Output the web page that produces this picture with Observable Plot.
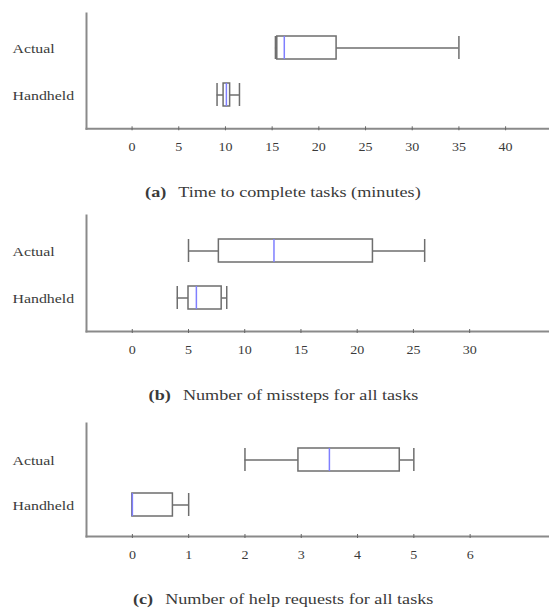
<!DOCTYPE html>
<html><head><meta charset="utf-8">
<script src="https://cdn.jsdelivr.net/npm/d3@7"></script>
<script src="https://cdn.jsdelivr.net/npm/@observablehq/plot@0.6"></script>
<style>
html,body{margin:0;padding:0;background:#fff;overflow:hidden;}
#root{position:relative;width:549px;height:612px;}
.panel{position:absolute;left:0;z-index:1;}
.cap{position:absolute;left:0;width:566px;text-align:center;font-family:"Liberation Serif","Times New Roman",serif;font-size:15px;color:#3a3a3a;line-height:18px;z-index:2;white-space:nowrap;}
.cap .inner{display:inline-block;transform:scaleX(1.21);transform-origin:center;}
.cap b{margin-right:10px;}
</style></head><body><div id="root"></div>
<script>
const groups = ["Actual", "Handheld"];

// (a) Time to complete tasks (minutes)
const timeMin = [15.35, 9.1];
const timeQ1 = [15.55, 9.8];
const timeMedian = [16.3, 10.1];
const timeQ3 = [21.9, 10.5];
const timeMax = [35, 11.5];
const timeTicks = [0, 5, 10, 15, 20, 25, 30, 35, 40];

// (b) Number of missteps for all tasks
const missMin = [5, 4];
const missQ1 = [7.7, 5];
const missMedian = [12.6, 5.7];
const missQ3 = [21.4, 7.95];
const missMax = [26, 8.4];
const missTicks = [0, 5, 10, 15, 20, 25, 30];

// (c) Number of help requests for all tasks
const helpMin = [2, 0];
const helpQ1 = [2.95, 0];
const helpMedian = [3.5, 0];
const helpQ3 = [4.75, 0.72];
const helpMax = [5, 1];
const helpTicks = [0, 1, 2, 3, 4, 5, 6];

const captionLetters = ["(a)", "(b)", "(c)"];
const captionTexts = [
  "Time to complete tasks (minutes)",
  "Number of missteps for all tasks",
  "Number of help requests for all tasks"
];

const panels = [
  {min: timeMin, q1: timeQ1, med: timeMedian, q3: timeQ3, max: timeMax, ticks: timeTicks,
   domain: [-4.88, 44.7], top: 0, height: 200, mt: 13, axisY: 128.3, yRange: [36, 107], pi: 0.505, capY: 191.7},
  {min: missMin, q1: missQ1, med: missMedian, q3: missQ3, max: missMax, ticks: missTicks,
   domain: [-4.07, 37.1], top: 200, height: 200, mt: 15, axisY: 131, yRange: [39, 109], pi: 0.511, capY: 395.3},
  {min: helpMin, q1: helpQ1, med: helpMedian, q3: helpQ3, max: helpMax, ticks: helpTicks,
   domain: [-0.815, 7.41], top: 400, height: 212, mt: 23, axisY: 136, yRange: [47, 116.5], pi: 0.489, capY: 599.3}
];

const boxStroke = "#6e6e6e";
const axisStroke = "#8a8a8a";
const medianStroke = "#7f7fff";

const root = document.getElementById("root");

panels.forEach((p, k) => {
  const data = groups.map((g, i) => ({group: g, min: p.min[i], q1: p.q1[i], med: p.med[i], q3: p.q3[i], max: p.max[i]}));
  const svg = Plot.plot({
    width: 549,
    height: p.height,
    marginLeft: 86,
    marginRight: 0,
    marginTop: p.mt,
    marginBottom: p.height - p.axisY,
    style: {fontFamily: '"Liberation Serif", "Times New Roman", serif', fontSize: "12px", color: "#3a3a3a", background: "transparent"},
    x: {domain: p.domain, label: null},
    y: {type: "band", domain: groups, range: p.yRange, paddingInner: p.pi, paddingOuter: 0, align: 0.5, label: null},
    marks: [
      Plot.frame({anchor: "left", stroke: axisStroke, strokeWidth: 2}),
      Plot.frame({anchor: "bottom", stroke: axisStroke, strokeWidth: 2}),
      Plot.axisX(p.ticks, {tickSize: 4, dy: -2, tickFormat: () => "", stroke: "#666", label: null}),
      Plot.axisX(p.ticks, {tickSize: 0, tickPadding: 13.5, fontSize: 12, label: null}),
      Plot.axisY({tickSize: 0, tickPadding: 0, textAnchor: "start", dx: -74, dy: 1.5, fontSize: 12, label: null}),
      Plot.ruleY(data, {y: "group", x1: "min", x2: "q1", stroke: boxStroke, strokeWidth: 1.5}),
      Plot.ruleY(data, {y: "group", x1: "q3", x2: "max", stroke: boxStroke, strokeWidth: 1.5}),
      Plot.tickX(data, {x: "min", y: "group", stroke: boxStroke, strokeWidth: 1.5}),
      Plot.tickX(data, {x: "max", y: "group", stroke: boxStroke, strokeWidth: 1.5}),
      Plot.barX(data, {x1: "q1", x2: "q3", y: "group", fill: "white", stroke: boxStroke, strokeWidth: 1.5}),
      Plot.tickX(data, {x: "med", y: "group", stroke: medianStroke, strokeWidth: 1.5})
    ]
  });
  svg.classList.add("panel");
  svg.style.top = p.top + "px";
  root.appendChild(svg);

  const cap = document.createElement("div");
  cap.className = "cap";
  cap.style.top = (p.capY - 9) + "px";
  const inner = document.createElement("span");
  inner.className = "inner";
  const b = document.createElement("b");
  b.textContent = captionLetters[k];
  inner.appendChild(b);
  inner.appendChild(document.createTextNode(captionTexts[k]));
  cap.appendChild(inner);
  root.appendChild(cap);

  const stretch = (sel, f) => svg.querySelectorAll(sel).forEach(t => {
    const L = t.getComputedTextLength();
    if (L > 0) { t.setAttribute("textLength", L * f); t.setAttribute("lengthAdjust", "spacingAndGlyphs"); }
  });
  stretch('g[aria-label="x-axis tick label"] text', 1.17);
  stretch('g[aria-label="y-axis tick label"] text', 1.32);
});
</script></body></html>
